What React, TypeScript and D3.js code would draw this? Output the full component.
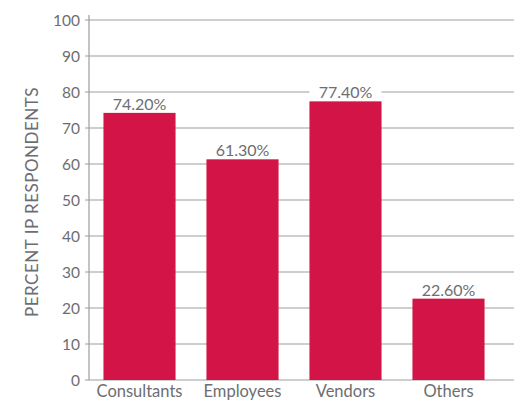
import React from "react";
import * as d3 from "d3";

const categories = ["Consultants", "Employees", "Vendors", "Others"];
const values = [74.2, 61.3, 77.4, 22.6];
const valueLabels = ["74.20%", "61.30%", "77.40%", "22.60%"];
const yTicks = [0, 10, 20, 30, 40, 50, 60, 70, 80, 90, 100];
const yTitle = "PERCENT IP RESPONDENTS";

const W = 516;
const H = 405;
const FONT = "Lato, 'Open Sans', sans-serif";
const TEXT = "#6d6e71";
const GRID = "#9d9d9d";
const BAR = "#d31447";

export default function App() {
  const x0 = 89;
  const x1 = 514;
  const y = d3.scaleLinear().domain([0, 100]).range([380, 20]);
  const x = d3
    .scaleBand<string>()
    .domain(categories)
    .range([88, 500])
    .paddingInner(0.3)
    .paddingOuter(0.15);
  const bw = x.bandwidth();

  return (
    <svg
      width={W}
      height={H}
      style={{ position: "absolute", left: 0, top: 0, background: "#fff" }}
      fontFamily={FONT}
    >
      {yTicks.map((t) => (
        <g key={t}>
          <line x1={x0 - 4} x2={x1} y1={y(t)} y2={y(t)} stroke={GRID} strokeWidth={1} />
          <text
            x={80}
            y={y(t)}
            dy="0.36em"
            textAnchor="end"
            fontSize={15.5}
            fill={TEXT}
          >
            {t}
          </text>
        </g>
      ))}
      <line x1={x0} x2={x0} y1={y(100) - 5} y2={y(0)} stroke={GRID} strokeWidth={1.2} />
      {categories.map((c, i) => {
        const bx = x(c)!;
        const top = y(values[i]);
        return (
          <g key={c}>
            <rect x={bx} y={top} width={bw} height={y(0) - top} fill={BAR} />
            <rect x={bx} y={top - 16} width={bw} height={15} fill="#fff" />
            <text
              x={bx + bw / 2}
              y={top - 3}
              textAnchor="middle"
              fontSize={16}
              fill={TEXT}
            >
              {valueLabels[i]}
            </text>
            <text
              x={bx + bw / 2}
              y={397}
              textAnchor="middle"
              fontSize={16.5}
              fill={TEXT}
            >
              {c}
            </text>
          </g>
        );
      })}
      <text
        transform={`translate(38, ${(y(0) + y(100)) / 2 + 2}) rotate(-90)`}
        textAnchor="middle"
        fontSize={17}
        letterSpacing={0.5}
        fill={TEXT}
      >
        {yTitle}
      </text>
    </svg>
  );
}
